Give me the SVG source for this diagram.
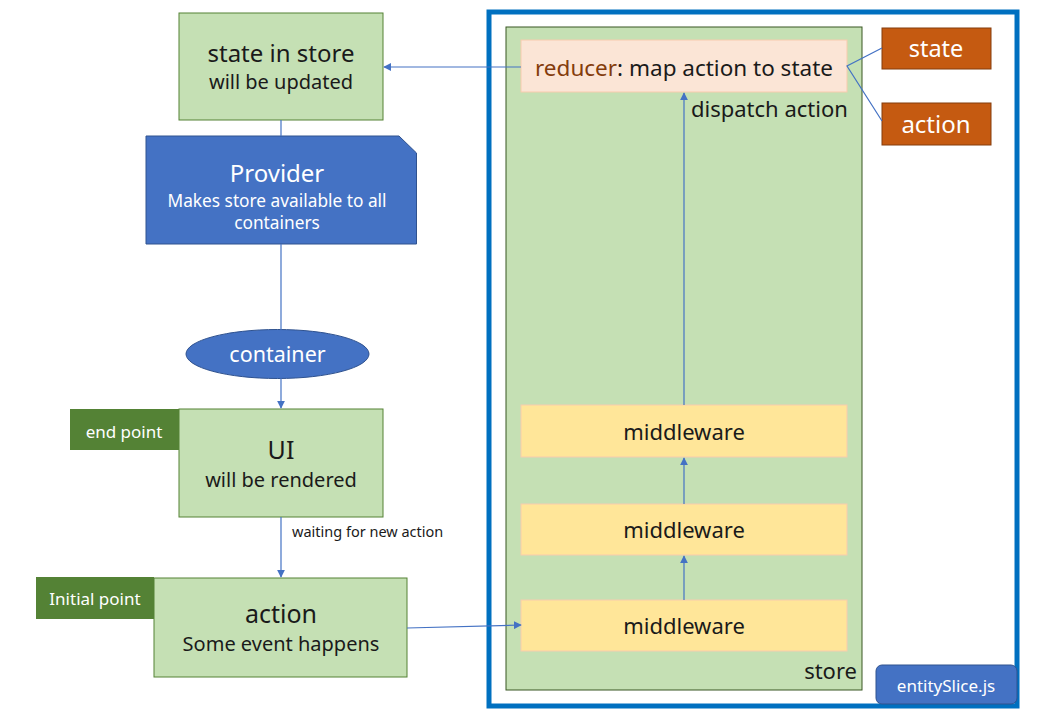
<svg xmlns="http://www.w3.org/2000/svg" width="1038" height="717" viewBox="0 0 1038 717">
<style>
text{font-family:"Noto Sans","Open Sans","Liberation Sans",sans-serif;text-anchor:middle}
.g{fill:#C5E0B4;stroke:#548235;stroke-width:1}
.dk{fill:#1a1a1a}
.w{fill:#ffffff}
.mw{fill:#FFE699;stroke:#F8CBAD;stroke-width:1}
.or{fill:#C55A11;stroke:#843C0C;stroke-width:1}
.ln{stroke:#4472C4;stroke-width:1.2;fill:none}
</style>
<defs>
<marker id="ah" viewBox="0 0 10 10" refX="9" refY="5" markerWidth="8" markerHeight="8" markerUnits="userSpaceOnUse" orient="auto">
<path d="M0,0 L10,5 L0,10 z" fill="#4472C4"/>
</marker>
</defs>
<rect width="1038" height="717" fill="#ffffff"/>

<g id="frame">
<rect x="489" y="12" width="528" height="694" fill="none" stroke="#0070C0" stroke-width="5"/>
</g>

<g id="store">
<rect x="506" y="27" width="356" height="663" class="g" style="stroke:#385723"/>
<text x="857" y="679" class="dk" font-size="22" style="text-anchor:end">store</text>
</g>

<g id="reducer">
<rect x="521" y="40" width="326" height="52" fill="#FBE5D6" stroke="#F8CBAD"/>
<text x="684" y="76" font-size="22.5"><tspan fill="#843C0C">reducer</tspan><tspan class="dk">: map action to state</tspan></text>
</g>

<g id="mw1">
<rect x="521" y="405" width="326" height="52" class="mw"/>
<text x="684" y="440" class="dk" font-size="22">middleware</text>
</g>
<g id="mw2">
<rect x="521" y="504" width="326" height="51" class="mw"/>
<text x="684" y="538" class="dk" font-size="22">middleware</text>
</g>
<g id="mw3">
<rect x="521" y="600" width="326" height="51" class="mw"/>
<text x="684" y="634" class="dk" font-size="22">middleware</text>
</g>

<g id="stateTag">
<rect x="882" y="28" width="109" height="41" class="or"/>
<text x="936" y="57" class="w" font-size="23.5">state</text>
</g>
<g id="actionTag">
<rect x="882" y="103" width="109" height="42" class="or"/>
<text x="936" y="133" class="w" font-size="24">action</text>
</g>

<g id="entitySlice">
<rect x="876" y="665" width="141" height="39" rx="6" fill="#4472C4" stroke="#2F528F"/>
<text x="946" y="692" class="w" font-size="17">entitySlice.js</text>
</g>

<g id="stateInStore">
<rect x="179" y="13" width="204" height="107" class="g"/>
<text x="281" y="62" class="dk" font-size="24">state in store</text>
<text x="281" y="89" class="dk" font-size="20">will be updated</text>
</g>

<g id="provider">
<path d="M146,136 L399,136 L416.5,153 L416.5,244 L146,244 Z" fill="#4472C4" stroke="#2F528F"/>
<text x="277" y="182" class="w" font-size="24">Provider</text>
<text x="277" y="207" class="w" font-size="17.3">Makes store available to all</text>
<text x="277" y="229" class="w" font-size="17.3">containers</text>
</g>

<g id="container">
<ellipse cx="277.5" cy="354" rx="91.5" ry="24.5" fill="#4472C4" stroke="#2F528F"/>
<text x="277.5" y="362" class="w" font-size="21.5">container</text>
</g>

<g id="ui">
<rect x="179" y="409" width="204" height="108" class="g"/>
<text x="281" y="459" class="dk" font-size="25">UI</text>
<text x="281" y="487" class="dk" font-size="20">will be rendered</text>
</g>
<g id="endPoint">
<rect x="70" y="409" width="109" height="41" fill="#548235"/>
<text x="124" y="438" class="w" font-size="17">end point</text>
</g>

<g id="action">
<rect x="154" y="578" width="253" height="99" class="g"/>
<text x="281" y="623" class="dk" font-size="25">action</text>
<text x="281" y="651" class="dk" font-size="20">Some event happens</text>
</g>
<g id="initialPoint">
<rect x="36" y="577" width="118" height="42" fill="#548235"/>
<text x="95" y="605" class="w" font-size="17">Initial point</text>
</g>

<g id="connectors">
<line x1="521" y1="67" x2="384" y2="67" class="ln" marker-end="url(#ah)"/>
<line x1="281" y1="120" x2="281" y2="136" class="ln"/>
<line x1="281" y1="244" x2="281" y2="330" class="ln"/>
<line x1="281" y1="378" x2="281" y2="408" class="ln" marker-end="url(#ah)"/>
<line x1="281" y1="517" x2="281" y2="577" class="ln" marker-end="url(#ah)"/>
<line x1="407" y1="628" x2="521" y2="625" class="ln" marker-end="url(#ah)"/>
<line x1="684" y1="600" x2="684" y2="556" class="ln" marker-end="url(#ah)"/>
<line x1="684" y1="504" x2="684" y2="458" class="ln" marker-end="url(#ah)"/>
<line x1="684" y1="405" x2="684" y2="93" class="ln" marker-end="url(#ah)"/>
<polyline points="882,48 847,66 882,121" class="ln"/>
<text x="292" y="537" class="dk" font-size="14.5" style="text-anchor:start">waiting for new action</text>
<text x="691" y="117" class="dk" font-size="22" style="text-anchor:start">dispatch action</text>
</g>
</svg>
